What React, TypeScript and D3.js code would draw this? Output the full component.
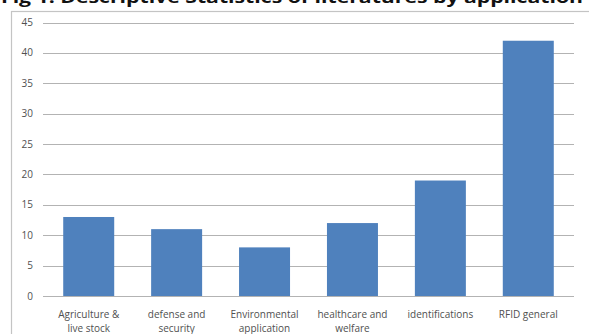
import React, { useEffect, useRef } from "react";
import * as d3 from "d3";

const categories = [
  ["Agriculture &", "live stock"],
  ["defense and", "security"],
  ["Environmental", "application"],
  ["healthcare and", "welfare"],
  ["identifications"],
  ["RFID general"],
];
const values = [13, 11, 8, 12, 19, 42];
const yTicks = [0, 5, 10, 15, 20, 25, 30, 35, 40, 45];
const title = "Fig 1: Descriptive Statistics of literatures by application";

const W = 589;
const H = 334;

export default function App() {
  const ref = useRef<SVGSVGElement>(null);
  useEffect(() => {
    const svg = d3.select(ref.current);
    svg.selectAll("*").remove();
    const left = 43, right = 574, top = 22.5, bottom = 296;
    const x = d3.scaleBand<number>().domain(d3.range(values.length)).range([left, right]).paddingInner(0.42).paddingOuter(0.23);
    const y = d3.scaleLinear().domain([0, 45]).range([bottom, top]);

    svg.append("rect").attr("x", 0).attr("y", 0).attr("width", W).attr("height", H).attr("fill", "#fff");
    svg.append("rect").attr("x", 11.5).attr("y", 11.5).attr("width", 600).attr("height", 400)
      .attr("fill", "#fff").attr("stroke", "#c4c4c4").attr("stroke-width", 1.2);

    const font = "'Open Sans', sans-serif";
    svg.append("g").selectAll("line").data(yTicks).join("line")
      .attr("x1", left).attr("x2", right)
      .attr("y1", (d) => Math.round(y(d)) + 0.5).attr("y2", (d) => Math.round(y(d)) + 0.5)
      .attr("stroke", "#b3b3b3").attr("stroke-width", 1.2);

    svg.append("g").selectAll("text").data(yTicks).join("text")
      .attr("x", 33).attr("y", (d) => y(d) + 3.5)
      .attr("text-anchor", "end").attr("font-family", font).attr("font-size", 10)
      .attr("fill", "#505050").text((d) => d);

    svg.append("g").selectAll("rect").data(values).join("rect")
      .attr("x", (_, i) => x(i)!).attr("width", x.bandwidth())
      .attr("y", (d) => y(d)).attr("height", (d) => bottom - y(d))
      .attr("fill", "#4f81bd");

    const lab = svg.append("g").selectAll("text").data(categories).join("text")
      .attr("text-anchor", "middle").attr("font-family", font).attr("font-size", 10).attr("fill", "#505050");
    lab.each(function (d, i) {
      const t = d3.select(this);
      d.forEach((line, k) => {
        t.append("tspan").attr("x", x(i)! + x.bandwidth() / 2).attr("y", 318 + k * 14).text(line);
      });
    });

    svg.append("text").attr("x", 1).attr("y", 3)
      .attr("font-family", font).attr("font-weight", "bold").attr("font-size", 16)
      .attr("textLength", 582).attr("lengthAdjust", "spacingAndGlyphs")
      .attr("fill", "#111").text(title);
  }, []);
  return (
    <svg ref={ref} width={W} height={H} style={{ position: "absolute", left: 0, top: 0, display: "block" }} />
  );
}
